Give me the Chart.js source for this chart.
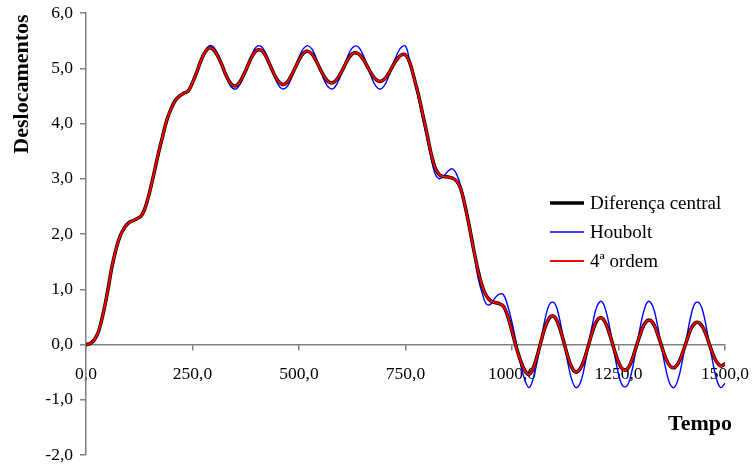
<!DOCTYPE html>
<html>
<head>
<meta charset="utf-8">
<script src="https://cdn.jsdelivr.net/npm/chart.js@4/dist/chart.umd.min.js"></script>
<style>
  html, body { margin: 0; padding: 0; background: #ffffff; }
  #wrap { width: 753px; height: 470px; }
</style>
</head>
<body>
<div id="wrap"><canvas id="c" width="753" height="470"></canvas></div>
<script>
// Time instants (step 10)
const tempo = [
  0, 10, 20, 30, 40, 50, 60, 70, 80, 90, 100, 110, 120, 130, 140, 150, 160, 170, 180, 190,
  200, 210, 220, 230, 240, 250, 260, 270, 280, 290, 300, 310, 320, 330, 340, 350, 360, 370, 380, 390,
  400, 410, 420, 430, 440, 450, 460, 470, 480, 490, 500, 510, 520, 530, 540, 550, 560, 570, 580, 590,
  600, 610, 620, 630, 640, 650, 660, 670, 680, 690, 700, 710, 720, 730, 740, 750, 760, 770, 780, 790,
  800, 810, 820, 830, 840, 850, 860, 870, 880, 890, 900, 910, 920, 930, 940, 950, 960, 970, 980, 990,
  1000, 1010, 1020, 1030, 1040, 1050, 1060, 1070, 1080, 1090, 1100, 1110, 1120, 1130, 1140, 1150, 1160, 1170, 1180, 1190,
  1200, 1210, 1220, 1230, 1240, 1250, 1260, 1270, 1280, 1290, 1300, 1310, 1320, 1330, 1340, 1350, 1360, 1370, 1380, 1390,
  1400, 1410, 1420, 1430, 1440, 1450, 1460, 1470, 1480, 1490, 1500
];

// Central difference method
const diferencaCentral = [
  0.00, 0.02, 0.09, 0.25, 0.55, 0.93, 1.37, 1.71, 1.96, 2.11, 2.20, 2.24, 2.28, 2.33, 2.50, 2.78, 3.11, 3.46, 3.77, 4.07,
  4.27, 4.42, 4.50, 4.55, 4.59, 4.74, 4.93, 5.14, 5.30, 5.37, 5.33, 5.21, 5.04, 4.85, 4.72, 4.68, 4.74, 4.88, 5.05, 5.22,
  5.32, 5.33, 5.25, 5.09, 4.92, 4.78, 4.71, 4.73, 4.84, 4.99, 5.15, 5.27, 5.31, 5.26, 5.14, 4.98, 4.84, 4.75, 4.74, 4.81,
  4.94, 5.09, 5.22, 5.28, 5.26, 5.17, 5.04, 4.90, 4.80, 4.76, 4.80, 4.90, 5.04, 5.16, 5.24, 5.24, 5.10, 4.83, 4.53, 4.18,
  3.83, 3.46, 3.19, 3.07, 3.04, 3.03, 3.01, 2.96, 2.81, 2.50, 2.13, 1.72, 1.35, 1.06, 0.88, 0.79, 0.76, 0.74, 0.69, 0.51,
  0.24, -0.05, -0.29, -0.47, -0.54, -0.42, -0.18, 0.11, 0.36, 0.50, 0.50, 0.34, 0.09, -0.19, -0.41, -0.50, -0.44, -0.26, 0.00, 0.26,
  0.44, 0.48, 0.38, 0.17, -0.09, -0.32, -0.45, -0.45, -0.31, -0.08, 0.16, 0.36, 0.44, 0.40, 0.23, 0.00, -0.23, -0.38, -0.42, -0.34,
  -0.16, 0.07, 0.28, 0.39, 0.39, 0.28, 0.08, -0.14, -0.31, -0.39, -0.35
];

// Houbolt method
const houbolt = [
  0.00, 0.02, 0.09, 0.25, 0.55, 0.93, 1.37, 1.71, 1.96, 2.13, 2.21, 2.24, 2.28, 2.33, 2.50, 2.78, 3.11, 3.46, 3.77, 4.07,
  4.30, 4.45, 4.50, 4.55, 4.59, 4.73, 4.92, 5.14, 5.32, 5.41, 5.38, 5.24, 5.04, 4.83, 4.67, 4.62, 4.69, 4.85, 5.06, 5.26,
  5.39, 5.40, 5.30, 5.11, 4.90, 4.72, 4.63, 4.65, 4.78, 4.99, 5.20, 5.35, 5.41, 5.35, 5.19, 4.97, 4.77, 4.65, 4.63, 4.73,
  4.91, 5.13, 5.31, 5.40, 5.38, 5.25, 5.05, 4.84, 4.68, 4.62, 4.68, 4.84, 5.05, 5.25, 5.38, 5.40, 5.13, 4.80, 4.47, 4.10,
  3.74, 3.38, 3.08, 3.00, 3.05, 3.14, 3.18, 3.08, 2.86, 2.55, 2.16, 1.70, 1.22, 0.93, 0.73, 0.73, 0.84, 0.91, 0.90, 0.70,
  0.40, 0.03, -0.35, -0.64, -0.78, -0.61, -0.27, 0.16, 0.54, 0.75, 0.75, 0.52, 0.13, -0.29, -0.63, -0.78, -0.70, -0.41, 0.01, 0.41,
  0.70, 0.78, 0.62, 0.28, -0.15, -0.53, -0.75, -0.75, -0.53, -0.14, 0.28, 0.62, 0.78, 0.70, 0.41, 0.00, -0.41, -0.70, -0.78, -0.63,
  -0.29, 0.13, 0.52, 0.75, 0.75, 0.54, 0.15, -0.27, -0.62, -0.78, -0.70
];

// Fourth-order method
const quartaOrdem = [
  0.00, 0.02, 0.09, 0.25, 0.55, 0.93, 1.37, 1.71, 1.96, 2.11, 2.20, 2.24, 2.28, 2.33, 2.50, 2.78, 3.11, 3.46, 3.77, 4.07,
  4.27, 4.42, 4.50, 4.55, 4.59, 4.74, 4.93, 5.14, 5.30, 5.37, 5.33, 5.21, 5.04, 4.85, 4.72, 4.68, 4.74, 4.88, 5.05, 5.22,
  5.32, 5.33, 5.25, 5.09, 4.92, 4.78, 4.71, 4.73, 4.84, 4.99, 5.15, 5.27, 5.31, 5.26, 5.14, 4.98, 4.84, 4.75, 4.74, 4.81,
  4.94, 5.09, 5.22, 5.28, 5.26, 5.17, 5.04, 4.90, 4.80, 4.76, 4.80, 4.90, 5.04, 5.16, 5.24, 5.24, 5.10, 4.83, 4.53, 4.18,
  3.83, 3.46, 3.19, 3.07, 3.04, 3.03, 3.01, 2.96, 2.81, 2.50, 2.13, 1.72, 1.35, 1.06, 0.88, 0.79, 0.76, 0.74, 0.69, 0.51,
  0.24, -0.05, -0.29, -0.47, -0.54, -0.42, -0.18, 0.11, 0.36, 0.50, 0.50, 0.34, 0.09, -0.19, -0.41, -0.50, -0.44, -0.26, 0.00, 0.26,
  0.44, 0.48, 0.38, 0.17, -0.09, -0.32, -0.45, -0.45, -0.31, -0.08, 0.16, 0.36, 0.44, 0.40, 0.23, 0.00, -0.23, -0.38, -0.42, -0.34,
  -0.16, 0.07, 0.28, 0.39, 0.39, 0.28, 0.08, -0.14, -0.31, -0.39, -0.35
];

const seriesNames = ['Diferença central', 'Houbolt', '4ª ordem'];

const xTickValues = [0, 250, 500, 750, 1000, 1250, 1500];
const xTickLabels = ['0,0', '250,0', '500,0', '750,0', '1000,0', '1250,0', '1500,0'];
const yTickValues = [-2, -1, 0, 1, 2, 3, 4, 5, 6];
const yTickLabels = ['-2,0', '-1,0', '0,0', '1,0', '2,0', '3,0', '4,0', '5,0', '6,0'];

const xTitle = 'Tempo';
const yTitle = 'Deslocamentos';

const SERIF = '"Liberation Serif", "Times New Roman", serif';
const AXIS_GREY = '#808080';

const pairs = (ys) => tempo.map((t, i) => ({ x: t, y: ys[i] }));

// Axis titles and the legend box at the right of the plot
const annotations = {
  id: 'annotations',
  afterDraw(chart) {
    const ctx = chart.ctx;
    ctx.save();
    ctx.fillStyle = '#000000';
    ctx.font = 'bold 22px ' + SERIF;
    ctx.textAlign = 'center';
    ctx.textBaseline = 'middle';
    ctx.fillText(xTitle, 700, 424);
    ctx.save();
    ctx.translate(22, 84);
    ctx.rotate(-Math.PI / 2);
    ctx.fillText(yTitle, 0, 0);
    ctx.restore();

    ctx.font = '19px ' + SERIF;
    ctx.textAlign = 'left';
    const rows = [203, 232, 261];
    chart.data.datasets.forEach((ds, i) => {
      const y = rows[i];
      ctx.strokeStyle = ds.borderColor;
      ctx.lineWidth = ds.borderWidth;
      ctx.beginPath();
      ctx.moveTo(550, y);
      ctx.lineTo(584, y);
      ctx.stroke();
      ctx.fillText(ds.label, 590, y + 1);
    });
    ctx.restore();
  }
};

new Chart(document.getElementById('c'), {
  type: 'line',
  data: {
    datasets: [
      { label: seriesNames[0], data: pairs(diferencaCentral), borderColor: '#000000', borderWidth: 3.5, order: 1 },
      { label: seriesNames[1], data: pairs(houbolt), borderColor: '#0000FF', borderWidth: 1.4, order: 2 },
      { label: seriesNames[2], data: pairs(quartaOrdem), borderColor: '#FF0000', borderWidth: 2, order: 0 }
    ]
  },
  options: {
    responsive: false,
    devicePixelRatio: 1,
    animation: false,
    elements: {
      point: { radius: 0 },
      line: { tension: 0.4, fill: false, borderCapStyle: 'round', borderJoinStyle: 'round' }
    },
    layout: { padding: { left: 0, right: 28, top: 13, bottom: 15 } },
    plugins: {
      legend: { display: false },
      tooltip: { enabled: false }
    },
    scales: {
      x: {
        type: 'linear',
        min: 0,
        max: 1500,
        position: { y: 0 },
        afterBuildTicks: (scale) => { scale.ticks = xTickValues.map(v => ({ value: v })); },
        afterFit: (scale) => { scale.paddingLeft = 0; scale.paddingRight = 0; },
        ticks: {
          callback: (value) => xTickLabels[xTickValues.indexOf(value)],
          font: { family: SERIF, size: 17.5 },
          color: '#000000',
          padding: 14,
          maxRotation: 0,
          autoSkip: false
        },
        grid: { drawOnChartArea: false, drawTicks: true, tickLength: 5, color: AXIS_GREY, lineWidth: 1.5 },
        border: { display: true, color: AXIS_GREY, width: 1.5 }
      },
      y: {
        type: 'linear',
        min: -2,
        max: 6,
        position: 'left',
        afterBuildTicks: (scale) => { scale.ticks = yTickValues.map(v => ({ value: v })); },
        afterFit: (scale) => { scale.width = 86; scale.paddingTop = 0; scale.paddingBottom = 0; },
        ticks: {
          callback: (value) => yTickLabels[yTickValues.indexOf(value)],
          font: { family: SERIF, size: 17.5 },
          color: '#000000',
          padding: 7,
          autoSkip: false
        },
        grid: { drawOnChartArea: false, drawTicks: true, tickLength: 6, color: AXIS_GREY, lineWidth: 1.5 },
        border: { display: true, color: AXIS_GREY, width: 1.5 }
      }
    }
  },
  plugins: [annotations]
});
</script>
</body>
</html>
